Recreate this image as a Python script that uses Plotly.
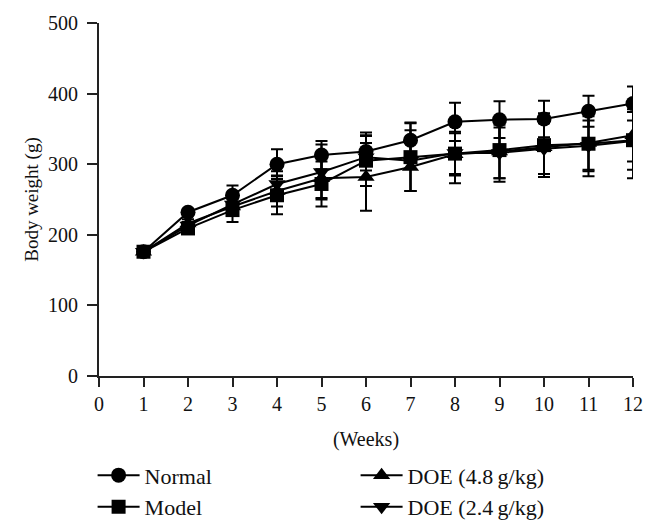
import plotly.graph_objects as go

weeks = [1, 2, 3, 4, 5, 6, 7, 8, 9, 10, 11, 12]

normal = [176, 232, 256, 300, 313, 318, 334, 360, 363, 364, 375, 386]
normal_sd = [3, 4, 14, 21, 20, 27, 25, 27, 26, 26, 22, 24]

model = [176, 209, 235, 256, 272, 305, 310, 315, 320, 327, 329, 334]
model_sd = [3, 5, 17, 27, 32, 36, 48, 42, 45, 45, 46, 54]

doe48 = [176, 216, 240, 262, 280, 282, 296, 314, 318, 324, 330, 341]
doe48_sd = [3, 6, 10, 22, 28, 48, 34, 30, 38, 38, 38, 37]

doe24 = [176, 213, 243, 272, 289, 310, 305, 316, 316, 322, 326, 333]
doe24_sd = [3, 5, 12, 18, 39, 30, 43, 30, 36, 36, 36, 41]

series = [
    ("Normal", normal, normal_sd, "circle", 15, 1),
    ("Model", model, model_sd, "square", 14, 3),
    ("DOE (4.8\u2009g/kg)", doe48, doe48_sd, "triangle-up", 15, 2),
    ("DOE (2.4\u2009g/kg)", doe24, doe24_sd, "triangle-down", 15, 4),
]

FONT = "Liberation Serif"

fig = go.Figure()
for name, vals, sd, sym, size, rank in series:
    fig.add_trace(go.Scatter(
        x=weeks, y=vals, name=name, mode="lines+markers",
        line=dict(color="black", width=2),
        marker=dict(symbol=sym, size=size, color="black"),
        error_y=dict(type="data", array=sd, visible=True, color="black",
                     thickness=2, width=6),
        legendrank=rank,
    ))

# page body has an 8px margin, so the figure is 648x520 placed at (8, 8)
fig.update_layout(
    width=648, height=520,
    margin=dict(l=91, r=23, t=15, b=152, autoexpand=False),
    paper_bgcolor="white", plot_bgcolor="white",
    font=dict(family=FONT, size=20, color="#111"),
    showlegend=True,
    legend=dict(
        orientation="h", x=-0.012, xanchor="left", y=-0.222, yanchor="top",
        font=dict(family=FONT, size=22, color="#111"),
        entrywidth=206, entrywidthmode="pixels",
        tracegroupgap=0, itemwidth=42, bgcolor="rgba(0,0,0,0)",
    ),
)

fig.update_xaxes(
    range=[0, 12], tickvals=list(range(0, 13)),
    showline=True, linecolor="#222", linewidth=2,
    ticks="outside", ticklen=9, tickwidth=2, tickcolor="#222",
    showgrid=False, zeroline=False, automargin=False,
    tickfont=dict(family=FONT, size=20),
    title=dict(text="(Weeks)", font=dict(family=FONT, size=20), standoff=18),
)
fig.update_yaxes(
    range=[0, 500], tickvals=[0, 100, 200, 300, 400, 500],
    showline=True, linecolor="#222", linewidth=2,
    ticks="outside", ticklen=10, tickwidth=2, tickcolor="#222",
    showgrid=False, zeroline=False, automargin=False, ticklabelstandoff=5,
    tickfont=dict(family=FONT, size=20),
    title=dict(text="Body weight (g)", font=dict(family=FONT, size=19), standoff=4),
)

fig.write_html("out.html")
